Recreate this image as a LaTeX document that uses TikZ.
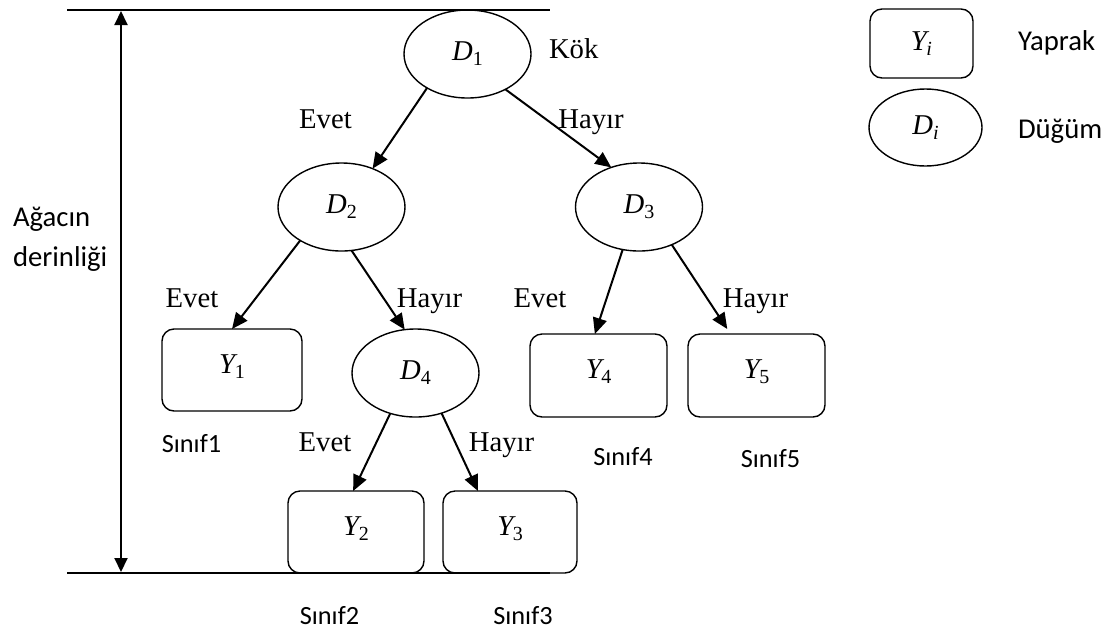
\documentclass[tikz,border=0pt]{standalone}
\usepackage{fontspec}
\setmainfont{Liberation Serif}
\newfontfamily\calib{Carlito}
\usetikzlibrary{shapes.geometric,arrows.meta,calc}
% italic symbol with a lowered, smaller index (optional kern before the index)
\newcommand\varsub[3][0pt]{\textit{#2}\kern#1\raisebox{-5pt}{\fontsize{20}{20}\selectfont #3}}

\begin{document}
\begin{tikzpicture}[x=1pt,y=-1pt,
  every node/.style={font=\fontsize{28.7}{34}\selectfont, inner sep=0pt, outer sep=0pt},
  dnode/.style={ellipse, draw, line width=1.4pt, minimum width=127pt, minimum height=88pt},
  boxshape/.style={rectangle, rounded corners=12pt, draw, line width=1.4pt},
  leaf/.style={boxshape, minimum height=82pt, text height=20pt, text depth=14pt},
  lbl/.style={anchor=base},
  sans/.style={font=\calib\fontsize{28.7}{34}\selectfont, anchor=base west},
  cls/.style={font=\calib\fontsize{26.3}{31}\selectfont, anchor=base},
  edge/.style={line width=2pt, -{Triangle[length=16pt,width=14pt]}},
  rule/.style={line width=2pt},
]
\useasboundingbox (0,0) rectangle (1113,630);

% depth guides and the double arrow between them
\coordinate (tl) at (67,10);
\coordinate (tr) at (550,10);
\coordinate (bl) at (67,573);
\coordinate (br) at (550,573);
\draw[rule] (tl) -- (tr);
\draw[rule] (bl) -- (br);
\coordinate (dt) at (121,11);
\coordinate (db) at (121,572);
\draw[line width=2pt, {Triangle[length=14pt,width=13pt]}-{Triangle[length=14pt,width=13pt]}] (dt) -- (db);
\node[sans] (depth1) at (13,226.7) {Ağacın};
\node[sans] (depth2) at (13,266.7) {derinliği};

% decision nodes
\node[dnode] (D1) at (467.5,54) {\varsub{D}{1}};
\node[dnode] (D2) at (341.5,207) {\varsub{D}{2}};
\node[dnode] (D3) at (639,207) {\varsub{D}{3}};
\node[dnode] (D4) at (415.5,373) {\varsub{D}{4}};

% leaves
\node[leaf, minimum width=140pt] (Y1) at (232,370) {\varsub[-3pt]{Y}{1}};
\node[leaf, minimum width=136pt] (Y2) at (356,532) {\varsub[-3pt]{Y}{2}};
\node[leaf, minimum width=134pt] (Y3) at (510,532) {\varsub[-3pt]{Y}{3}};
\node[leaf, minimum width=137pt, minimum height=83pt] (Y4) at (598.5,375.5) {\varsub[-3pt]{Y}{4}};
\node[leaf, minimum width=137pt, minimum height=83pt] (Y5) at (756.5,375.5) {\varsub[-3pt]{Y}{5}};

% branches
\draw[edge] (D1.220) -- (D2.51);
\draw[edge] (D1.317) -- (D3.125);
\draw[edge] (D2.219) -- (Y1.north);
\draw[edge] (D2.283) -- (D4.104);
\draw[edge] (D3.249) -- (Y4.95);
\draw[edge, shorten >=6pt] (D3.311) -- (Y5.122);
\draw[edge] (D4.238) -- (Y2.94);
\draw[edge] (D4.303) -- (Y3.128);

% branch labels
\node[anchor=base west] (kok) at (549,58) {Kök};
\node[lbl] (e1) at (325.5,128) {Evet};
\node[lbl] (h1) at (591,128) {Hayır};
\node[lbl] (e2) at (192,307) {Evet};
\node[lbl] (h2) at (429.5,307) {Hayır};
\node[lbl] (e3) at (540,307) {Evet};
\node[lbl] (h3) at (755.5,307) {Hayır};
\node[lbl] (e4) at (325,451) {Evet};
\node[lbl] (h4) at (501.5,451) {Hayır};

% class names
\node[cls] (c1) at (191.5,452.7) {Sınıf1};
\node[cls] (c2) at (329.5,624) {Sınıf2};
\node[cls] (c3) at (523,624) {Sınıf3};
\node[cls] (c4) at (623,465.7) {Sınıf4};
\node[cls] (c5) at (770.5,467.7) {Sınıf5};

% legend
\node[boxshape, minimum width=103pt, minimum height=69pt] (LY) at (921.5,43.5) {\varsub[-3pt]{Y}{\textit{i}}};
\node[dnode, minimum width=113pt, minimum height=77pt] (LD) at (925.5,127.5) {\varsub{D}{\textit{i}}};
\node[sans] (tY) at (1018,50.7) {Yaprak};
\node[sans] (tD) at (1018,138) {Düğüm};
\end{tikzpicture}
\end{document}
